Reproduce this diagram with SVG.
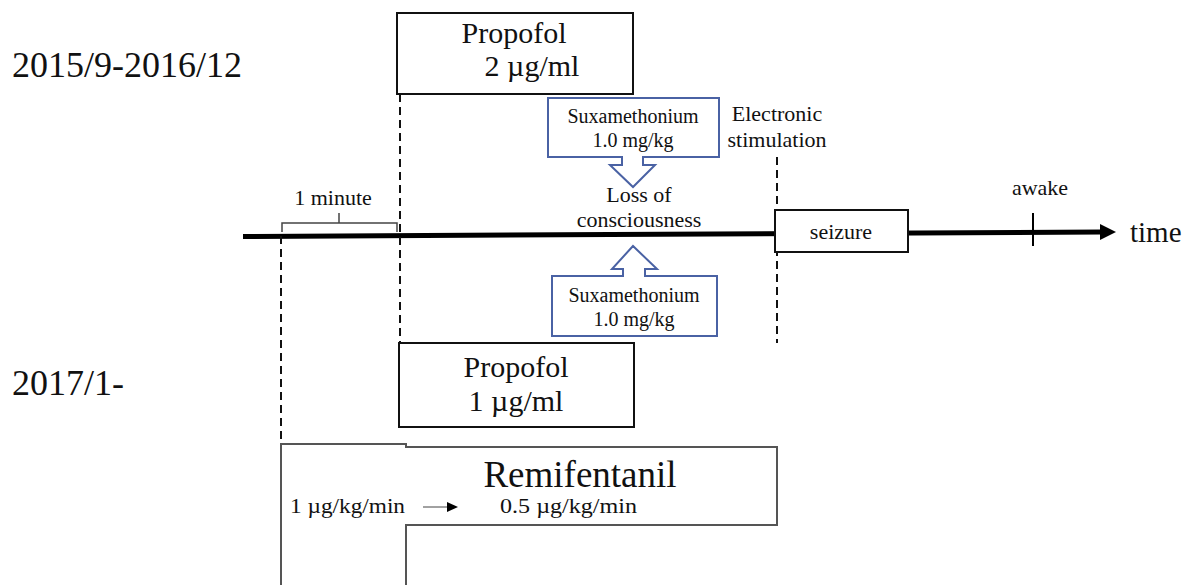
<svg xmlns="http://www.w3.org/2000/svg" width="1188" height="585" viewBox="0 0 1188 585">
<defs>
<style>
text{font-family:"Liberation Serif","Times New Roman",serif;fill:#111}
.box{fill:#fff;stroke:#111;stroke-width:2}
.blue{fill:#fff;stroke:#4a62a4;stroke-width:2}
.dash{fill:none;stroke:#111;stroke-width:2;stroke-dasharray:8,5}
.thin{fill:none;stroke:#555;stroke-width:2}
.c{text-anchor:middle}
</style>
</defs>
<rect width="1188" height="585" fill="#fff"/>

<g id="labels">
<text x="12" y="77" font-size="36">2015/9-2016/12</text>
<text x="12" y="395" font-size="36">2017/1-</text>
</g>

<g id="connectors">
<line x1="243" y1="236.5" x2="1102" y2="232" stroke="#000" stroke-width="5"/>
<path d="M1100,224 L1116,232 L1100,240 Z" fill="#000"/>
<line x1="1033" y1="213" x2="1033" y2="246" stroke="#000" stroke-width="2"/>
<line class="dash" x1="400" y1="94" x2="400" y2="343"/>
<line class="dash" x1="281" y1="236" x2="281" y2="444"/>
<line class="dash" x1="777" y1="157" x2="777" y2="343"/>
<path d="M282,232 V223 H339 V213 M339,223 H397 V232" fill="none" stroke="#444" stroke-width="1.5"/>
<line x1="423" y1="507" x2="452" y2="507" stroke="#444" stroke-width="1"/>
<path d="M447,502 L458,507 L447,512 Z" fill="#000"/>
</g>

<g id="propofol-top">
<rect class="box" x="397" y="13" width="236" height="81"/>
<text x="514" y="43" font-size="30" class="c">Propofol</text>
<text x="532" y="76" font-size="30" class="c">2 µg/ml</text>
</g>

<g id="sux-top">
<path class="blue" d="M548,98 H719 V157 H643 V165 H655 L633,187 L610,165 H622 V157 H548 Z"/>
<text x="633" y="123" font-size="20" class="c">Suxamethonium</text>
<text x="633" y="147" font-size="20" class="c">1.0 mg/kg</text>
</g>

<g id="electronic">
<text x="777" y="121" font-size="22" class="c">Electronic</text>
<text x="777" y="147" font-size="22" class="c">stimulation</text>
</g>

<g id="minute">
<text x="333" y="205" font-size="22" class="c">1 minute</text>
</g>

<g id="loss">
<text x="639" y="202" font-size="22" class="c">Loss of</text>
<text x="639" y="227" font-size="22" class="c">consciousness</text>
</g>

<g id="seizure">
<rect class="box" x="775" y="210" width="133" height="42" stroke-width="1.5"/>
<text x="841" y="239" font-size="22" class="c">seizure</text>
</g>

<g id="awake">
<text x="1040" y="195" font-size="22" class="c">awake</text>
</g>

<g id="time">
<text x="1130" y="242" font-size="29">time</text>
</g>

<g id="sux-bottom">
<path class="blue" d="M552,276 H623 V269 H612 L633,246 L657,269 H645 V276 H717 V336 H552 Z"/>
<text x="634" y="302" font-size="20" class="c">Suxamethonium</text>
<text x="634" y="326" font-size="20" class="c">1.0 mg/kg</text>
</g>

<g id="propofol-bottom">
<rect class="box" x="399" y="343" width="235" height="84"/>
<text x="516" y="377" font-size="30" class="c">Propofol</text>
<text x="516" y="411" font-size="30" class="c">1 µg/ml</text>
</g>

<g id="remifentanil">
<path class="thin" d="M281,585 V444 H406 V447 H777 V525 H406 V585"/>
<text x="580" y="487" font-size="37" class="c">Remifentanil</text>
<text x="290" y="513" font-size="22" textLength="115" lengthAdjust="spacingAndGlyphs">1 µg/kg/min</text>
<text x="500" y="513" font-size="22" textLength="137" lengthAdjust="spacingAndGlyphs">0.5 µg/kg/min</text>
</g>
</svg>
